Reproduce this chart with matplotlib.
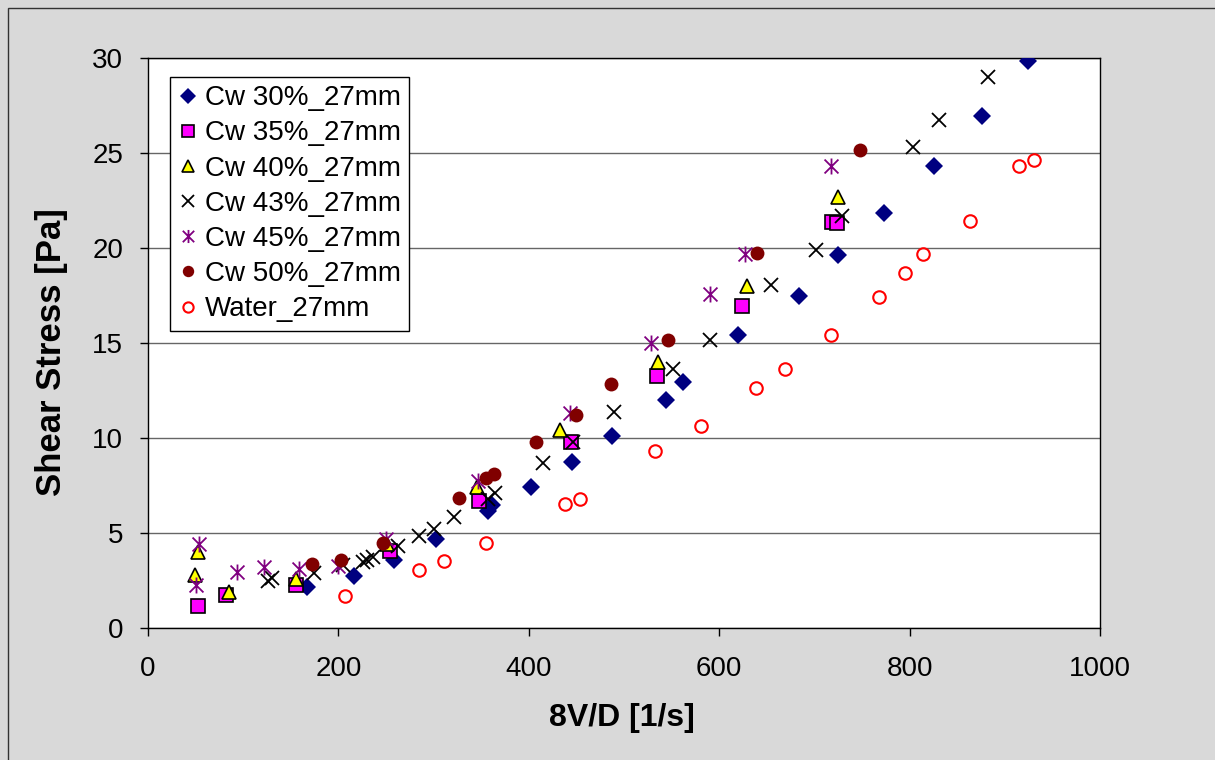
import matplotlib
matplotlib.use("Agg")
from matplotlib import pyplot as plt
from matplotlib.path import Path
from matplotlib.patches import Rectangle

plt.rcParams['font.family'] = ['Liberation Sans', 'DejaVu Sans']

# Cw 30%
x30 = [167, 216, 258, 302, 357, 361, 402, 445, 487, 544, 562, 620, 684, 725, 773, 826, 876, 924]
y30 = [2.16, 2.72, 3.6, 4.69, 6.16, 6.47, 7.44, 8.76, 10.08, 12.02, 12.96, 15.43, 17.49, 19.63, 21.82, 24.32, 26.94, 29.84]
# Cw 35%
x35 = [52, 82, 155, 254, 348, 444, 535, 624, 719, 724]
y35 = [1.15, 1.73, 2.27, 4.05, 6.7, 9.78, 13.27, 16.96, 21.39, 21.34]
# Cw 40%
x40 = [49, 53, 85, 155, 251, 346, 433, 536, 629, 725]
y40 = [2.8, 4.0, 1.88, 2.57, 4.4, 7.4, 10.4, 14.0, 18.0, 22.7]
# Cw 43%
x43 = [126, 130, 174, 205, 226, 230, 236, 263, 285, 300, 321, 357, 364, 415, 446, 490,
       551, 590, 654, 702, 729, 804, 831, 882]
y43 = [2.5, 2.65, 2.9, 3.3, 3.5, 3.6, 3.75, 4.3, 4.84, 5.2, 5.83, 6.8, 7.08, 8.68, 9.78, 11.38,
       13.62, 15.18, 18.03, 19.89, 21.7, 25.29, 26.74, 28.98]
# Cw 45%
x45 = [54, 50, 94, 122, 159, 200, 250, 347, 443, 528, 590, 627, 717]
y45 = [4.43, 2.24, 2.95, 3.2, 3.13, 3.26, 4.71, 7.72, 11.3, 15.02, 17.6, 19.71, 24.29]
# Cw 50%
x50 = [172, 203, 247, 327, 355, 363, 408, 450, 486, 546, 640, 748]
y50 = [3.36, 3.56, 4.46, 6.85, 7.87, 8.12, 9.8, 11.23, 12.86, 15.18, 19.76, 25.18]
# Water
xw = [207, 285, 311, 355, 438, 454, 533, 581, 639, 669, 717, 768, 795, 814, 863, 915, 931]
yw = [1.66, 3.06, 3.51, 4.5, 6.52, 6.8, 9.29, 10.64, 12.63, 13.65, 15.41, 17.44, 18.69, 19.68,
      21.42, 24.29, 24.62]

star = Path([(-1, -1), (1, 1), (-1, 1), (1, -1), (0, -1.15), (0, 1.15)],
            [Path.MOVETO, Path.LINETO, Path.MOVETO, Path.LINETO, Path.MOVETO, Path.LINETO])

fig = plt.figure(figsize=(12.15, 7.6), dpi=100)
fig.patch.set_facecolor('#d9d9d9')
fig.patches.append(Rectangle((8 / 1215, -0.05), 1.1, 1 - 8 / 760 + 0.05,
                             transform=fig.transFigure, fill=False,
                             edgecolor='#333333', linewidth=1))

ax = fig.add_axes([148 / 1215, 132 / 760, 952 / 1215, 570 / 760])

ax.plot(x30, y30, linestyle='none', marker='D', markersize=9.5, color='#000080',
        markeredgewidth=0, label='Cw 30%_27mm', zorder=3)
ax.plot(x35, y35, linestyle='none', marker='s', markersize=10, markerfacecolor='#ff00ff',
        markeredgecolor='black', markeredgewidth=1.2, label='Cw 35%_27mm', zorder=3)
ax.plot(x40, y40, linestyle='none', marker='^', markersize=10, markerfacecolor='#ffff00',
        markeredgecolor='black', markeredgewidth=1.2, label='Cw 40%_27mm', zorder=3)
ax.plot(x43, y43, linestyle='none', marker='x', markersize=10, color='black',
        markeredgewidth=1.3, label='Cw 43%_27mm', zorder=3)
ax.plot(x45, y45, linestyle='none', marker=star, markersize=11.5, markerfacecolor='none',
        markeredgecolor='#800080', markeredgewidth=1.3, label='Cw 45%_27mm', zorder=3)
ax.plot(x50, y50, linestyle='none', marker='o', markersize=10, color='#800000',
        markeredgewidth=0, label='Cw 50%_27mm', zorder=3)
ax.plot(xw, yw, linestyle='none', marker='o', markersize=9, markerfacecolor='none',
        markeredgecolor='#ff0000', markeredgewidth=1.5, label='Water_27mm', zorder=3)

ax.set_xlim(0, 1000)
ax.set_ylim(0, 30)
ax.set_xticks(range(0, 1001, 200))
ax.set_yticks(range(0, 31, 5))
ax.yaxis.grid(True, color='#666666', linewidth=1)
ax.set_axisbelow(True)
ax.tick_params(axis='both', direction='out', length=6, width=1, labelsize=20)
ax.tick_params(axis='x', pad=14)
ax.tick_params(axis='y', pad=12)
for s in ax.spines.values():
    s.set_color('black')
    s.set_linewidth(1)

fig.text(622 / 1215, 1 - 718 / 760, '8V/D [1/s]', fontsize=23, fontweight='bold',
         ha='center', va='center')
fig.text(51 / 1215, 1 - 352 / 760, 'Shear Stress [Pa]', fontsize=25, fontweight='bold',
         ha='center', va='center', rotation=90)

leg = ax.legend(loc='upper left', bbox_to_anchor=(22 / 952, 1 - 19 / 570), fontsize=20,
                frameon=True, fancybox=False, edgecolor='black', framealpha=1,
                borderpad=0.3, labelspacing=0.33, handlelength=0.7, handletextpad=0.25,
                markerscale=0.82, borderaxespad=0)
leg.get_frame().set_linewidth(1)

plt.savefig('out.png', dpi=100, facecolor=fig.get_facecolor())
